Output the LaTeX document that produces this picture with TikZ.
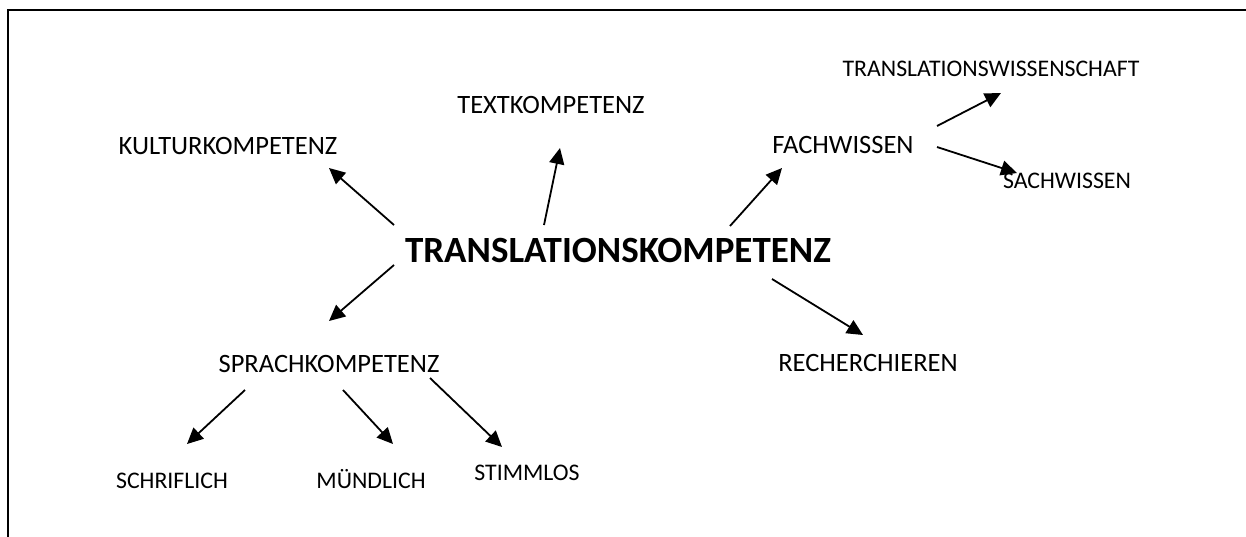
\documentclass[tikz,border=0pt]{standalone}
\usepackage{fontspec}
\setmainfont{Carlito}
\usetikzlibrary{arrows.meta}
\tikzset{
  big/.style={inner sep=0pt, anchor=base, font=\fontsize{26.5}{30}\selectfont},
  small/.style={inner sep=0pt, anchor=base, font=\fontsize{23.8}{28}\selectfont},
  mainlbl/.style={inner sep=0pt, anchor=base, font=\fontsize{37}{42}\selectfont\bfseries},
  arr/.style={line width=1.8pt, -{Triangle[length=16pt,width=15pt]}},
  frame/.style={line width=2.5pt}
}
\begin{document}
\begin{tikzpicture}[x=1pt,y=-1pt]
\useasboundingbox (0,0) rectangle (1246,536);
\coordinate (fbl) at (8,538);
\coordinate (ftl) at (8,10);
\coordinate (ftr) at (1248,10);
\draw[frame] (fbl) -- (ftl) -- (ftr);

\node[mainlbl] (main) at (618,262) {TRANSLATIONSKOMPETENZ};
\node[big] (kultur) at (228,154) {KULTURKOMPETENZ};
\node[big] (text) at (551,113) {TEXTKOMPETENZ};
\node[big] (fach) at (843,153) {FACHWISSEN};
\node[small] (tw) at (991,76) {TRANSLATIONSWISSENSCHAFT};
\node[small] (sach) at (1067,188) {SACHWISSEN};
\node[big] (sprach) at (329,372) {SPRACHKOMPETENZ};
\node[big] (rech) at (868,371) {RECHERCHIEREN};
\node[small] (schr) at (172,488) {SCHRIFLICH};
\node[small] (muend) at (371,488) {MÜNDLICH};
\node[small] (stimm) at (527,480) {STIMMLOS};

\coordinate (a1) at (394,225); \coordinate (b1) at (329,168);
\coordinate (a2) at (544,225); \coordinate (b2) at (560,148);
\coordinate (a3) at (730,226); \coordinate (b3) at (782,168);
\coordinate (a4) at (394,265); \coordinate (b4) at (329,321);
\coordinate (a5) at (772,279); \coordinate (b5) at (863,335);
\coordinate (a6) at (937,126); \coordinate (b6) at (1001,93);
\coordinate (a7) at (937,147); \coordinate (b7) at (1017,173);
\coordinate (a8) at (245,390); \coordinate (b8) at (187,444);
\coordinate (a9) at (343,390); \coordinate (b9) at (393,444);
\coordinate (a10) at (430,378); \coordinate (b10) at (502,447);

\draw[arr] (a1) -- (b1);
\draw[arr] (a2) -- (b2);
\draw[arr] (a3) -- (b3);
\draw[arr] (a4) -- (b4);
\draw[arr] (a5) -- (b5);
\draw[arr] (a6) -- (b6);
\draw[arr] (a7) -- (b7);
\draw[arr] (a8) -- (b8);
\draw[arr] (a9) -- (b9);
\draw[arr] (a10) -- (b10);
\end{tikzpicture}
\end{document}
